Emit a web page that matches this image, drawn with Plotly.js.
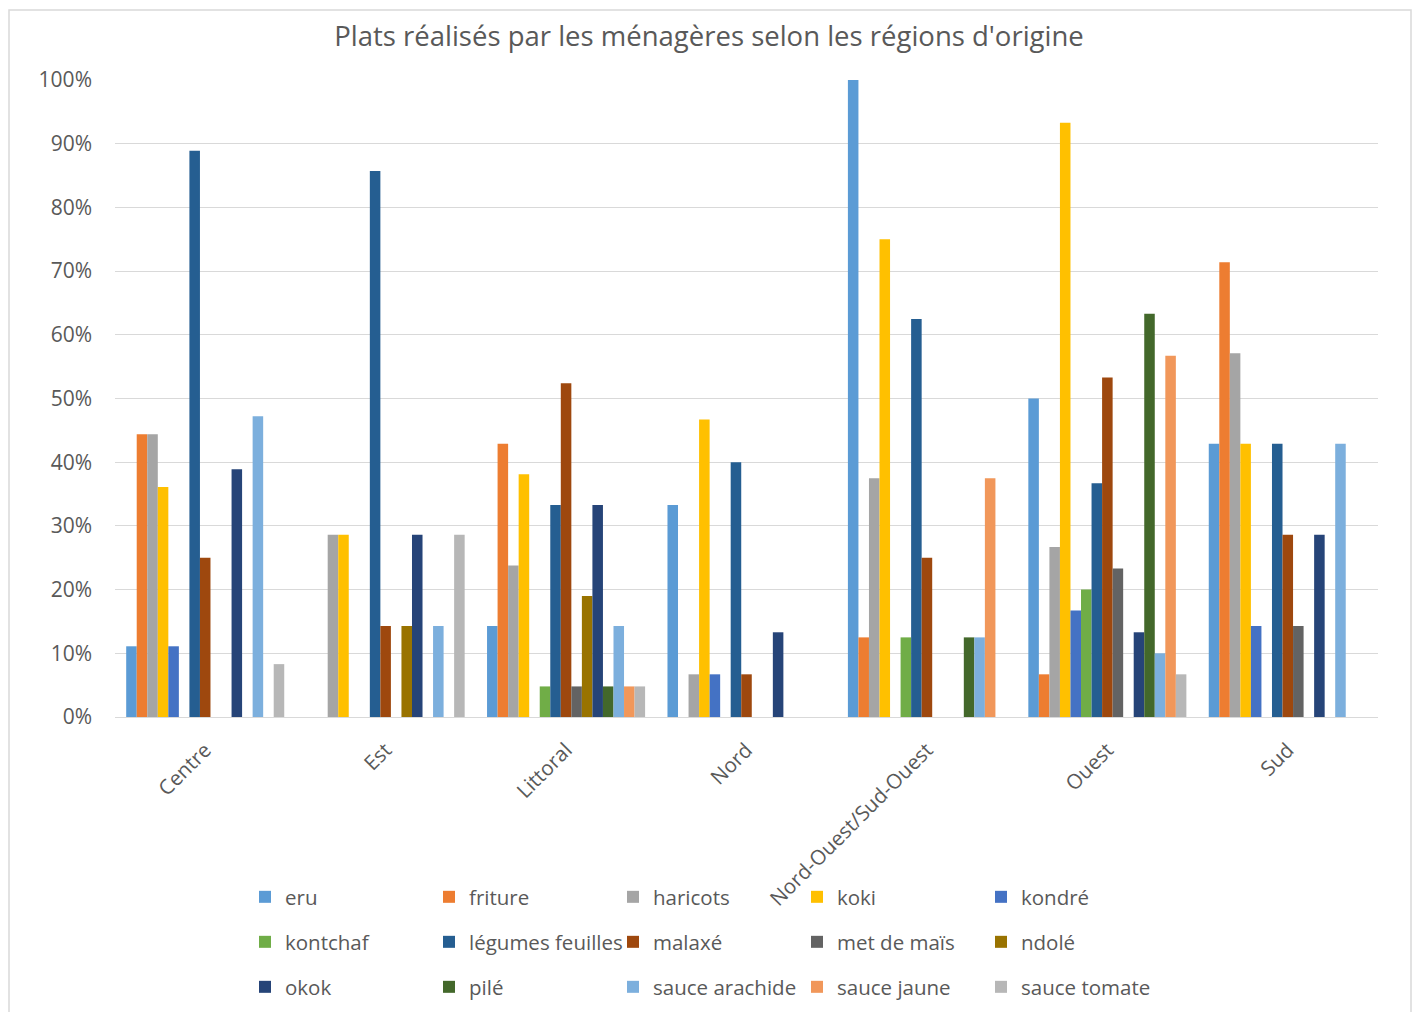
<!DOCTYPE html>
<html>
<head>
<meta charset="utf-8">
<script src="https://cdn.plot.ly/plotly-3.0.1.min.js"></script>
<style>
  html, body { margin: 0; padding: 0; background: #ffffff; }
  #chart { width: 1418px; height: 1012px; }
</style>
</head>
<body>
<div id="chart"></div>
<script>
// Categories (regions of origin)
const regions = ["Centre", "Est", "Littoral", "Nord", "Nord-Ouest/Sud-Ouest", "Ouest", "Sud"];

// Series values (share of households, fraction 0-1)
const eru            = [0.111, 0,     0.143, 0.333, 1.000, 0.500, 0.429];
const friture        = [0.444, 0,     0.429, 0,     0.125, 0.067, 0.714];
const haricots       = [0.444, 0.286, 0.238, 0.067, 0.375, 0.267, 0.571];
const koki           = [0.361, 0.286, 0.381, 0.467, 0.750, 0.933, 0.429];
const kondre         = [0.111, 0,     0,     0.067, 0,     0.167, 0.143];
const kontchaf       = [0,     0,     0.048, 0,     0.125, 0.200, 0];
const legumesFeuilles= [0.889, 0.857, 0.333, 0.400, 0.625, 0.367, 0.429];
const malaxe         = [0.250, 0.143, 0.524, 0.067, 0.250, 0.533, 0.286];
const metDeMais      = [0,     0,     0.048, 0,     0,     0.233, 0.143];
const ndole          = [0,     0.143, 0.190, 0,     0,     0,     0];
const okok           = [0.389, 0.286, 0.333, 0.133, 0,     0.133, 0.286];
const pile           = [0,     0,     0.048, 0,     0.125, 0.633, 0];
const sauceArachide  = [0.472, 0.143, 0.143, 0,     0.125, 0.100, 0.429];
const sauceJaune     = [0,     0,     0.048, 0,     0.375, 0.567, 0];
const sauceTomate    = [0.083, 0.286, 0.048, 0,     0,     0.067, 0];

const seriesNames = ["eru", "friture", "haricots", "koki", "kondré",
                     "kontchaf", "légumes feuilles", "malaxé", "met de maïs", "ndolé",
                     "okok", "pilé", "sauce arachide", "sauce jaune", "sauce tomate"];
const seriesValues = [eru, friture, haricots, koki, kondre,
                      kontchaf, legumesFeuilles, malaxe, metDeMais, ndole,
                      okok, pile, sauceArachide, sauceJaune, sauceTomate];
const seriesColors = ["#5B9BD5", "#ED7D31", "#A5A5A5", "#FFC000", "#4472C4",
                      "#70AD47", "#255E91", "#9E480E", "#636363", "#997300",
                      "#264478", "#43682B", "#7CAFDD", "#F1975A", "#B7B7B7"];

const FONT = "Open Sans, Noto Sans, sans-serif";
const TXT = "#595959";
const legendIds = ["legend", "legend2", "legend3"];

const traces = seriesNames.map((name, i) => ({
  type: "bar",
  name: name,
  x: regions,
  y: seriesValues[i],
  marker: { color: seriesColors[i], line: { width: 0 } },
  legend: legendIds[Math.floor(i / 5)],
  hovertemplate: "%{x}<br>" + name + ": %{y:.1%}<extra></extra>"
}));

// plot area: x 115..1378, y 80..717
const L = 115, R = 40, T = 80, B = 295;
const W = 1418 - L - R, H = 1012 - T - B;
const px2x = px => (px - L) / W;
const py2y = py => (1012 - B - py) / H;

function legendDef(rowY) {
  return {
    orientation: "h",
    x: px2x(245), xanchor: "left",
    y: py2y(rowY), yanchor: "middle",
    entrywidth: 139, entrywidthmode: "pixels",
    font: { family: FONT, size: 20.5, color: TXT },
    bgcolor: "rgba(0,0,0,0)",
    traceorder: "normal",
    itemclick: false, itemdoubleclick: false
  };
}

const layout = {
  width: 1418, height: 1012,
  margin: { l: L, r: R, t: T, b: B, autoexpand: false },
  paper_bgcolor: "#ffffff",
  plot_bgcolor: "#ffffff",
  font: { family: FONT, color: TXT },
  title: {
    text: "Plats réalisés par les ménagères selon les régions d'origine",
    font: { family: FONT, size: 27.5, color: TXT },
    x: 0.5, xanchor: "center",
    y: 1 - 36 / 1012, yanchor: "middle"
  },
  barmode: "group",
  bargap: 0.124,
  bargroupgap: 0,
  xaxis: {
    type: "category",
    tickangle: -45,
    tickfont: { family: FONT, size: 20.5, color: TXT },
    showline: true, linecolor: "#D9D9D9", linewidth: 1,
    showgrid: false, ticks: "", automargin: false,
    ticklabelstandoff: 12
  },
  yaxis: {
    range: [0, 1],
    dtick: 0.1,
    tickformat: ".0%",
    tickfont: { family: FONT, size: 21, color: TXT },
    showgrid: true, gridcolor: "#D9D9D9", gridwidth: 1,
    zeroline: false, showline: false, ticks: "",
    ticklabelstandoff: 22,
    automargin: false
  },
  showlegend: true,
  legend: legendDef(897),
  legend2: legendDef(942),
  legend3: legendDef(987),
  shapes: [{
    type: "rect", xref: "paper", yref: "paper",
    x0: px2x(9), x1: px2x(1411), y0: py2y(1030), y1: py2y(10),
    line: { color: "#D9D9D9", width: 1.5 }, fillcolor: "rgba(0,0,0,0)",
    layer: "below"
  }]
};

Plotly.newPlot("chart", traces, layout, { displayModeBar: false, responsive: false });
</script>
</body>
</html>
